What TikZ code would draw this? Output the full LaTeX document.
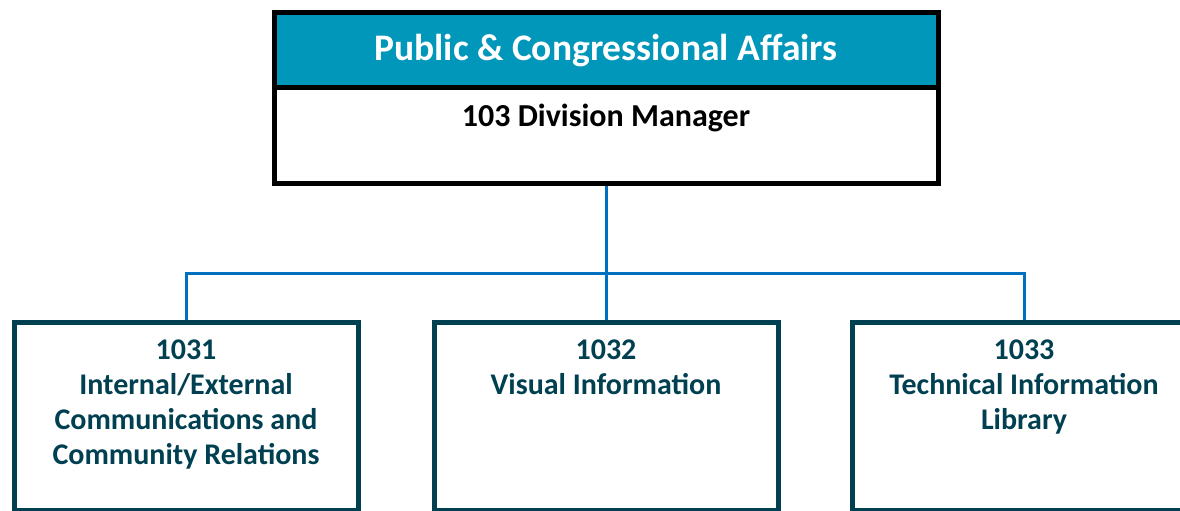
\documentclass[tikz,border=0pt]{standalone}
\usepackage{fontspec}
\setmainfont{Carlito}
\definecolor{teal1}{RGB}{0,151,186}
\definecolor{dteal}{RGB}{0,64,80}
\definecolor{connblue}{RGB}{0,112,192}
\tikzset{
  hdrbox/.style={draw=black, line width=5pt, fill=teal1, minimum width=664pt, minimum height=76pt, anchor=north, inner sep=0pt},
  mgrbox/.style={draw=black, line width=5pt, fill=white, minimum width=664pt, minimum height=96pt, anchor=north, inner sep=0pt},
  unitbox/.style={draw=dteal, line width=5pt, fill=white, minimum width=344pt, minimum height=188pt, anchor=north, inner sep=0pt},
  unittext/.style={text=dteal, font=\bfseries\fontsize{30}{35}\selectfont, align=center, anchor=north, inner sep=0pt},
  conn/.style={draw=connblue, line width=3pt}
}
\begin{document}
\begin{tikzpicture}[x=1pt,y=-1pt]
\useasboundingbox (0,0) rectangle (1180,511);
\fill[white] (0,0) rectangle (1180,511);
\coordinate (j) at (606,273);
\node[mgrbox] (mgr) at (606,85) {};
\node[unitbox] (b1) at (186,320) {};
\node[unitbox] (b2) at (606,320) {};
\node[unitbox] (b3) at (1024,320) {};
\draw[conn] (mgr.south) -- (b2.north);
\draw[conn] (b1.north) |- (j) -| (b3.north);
\node[hdrbox] (hdr) at (606,10) {};
\node[mgrbox] (mgr2) at (606,85) {};
\node[text=white, font=\bfseries\fontsize{37.5}{44}\selectfont, anchor=base, inner sep=0pt] (hdrt) at (606,60) {Public \& Congressional Affairs};
\node[font=\bfseries\fontsize{32}{38}\selectfont, anchor=base, inner sep=0pt] (mgrt) at (606,126) {103 Division Manager};
\node[unittext] (t1) at (186,340) {1031\\Internal/External\\Communications and\\Community Relations};
\node[unittext] (t2) at (606,340) {1032\\Visual Information};
\node[unittext] (t3) at (1024,340) {1033\\Technical Information\\Library};
\end{tikzpicture}
\end{document}
